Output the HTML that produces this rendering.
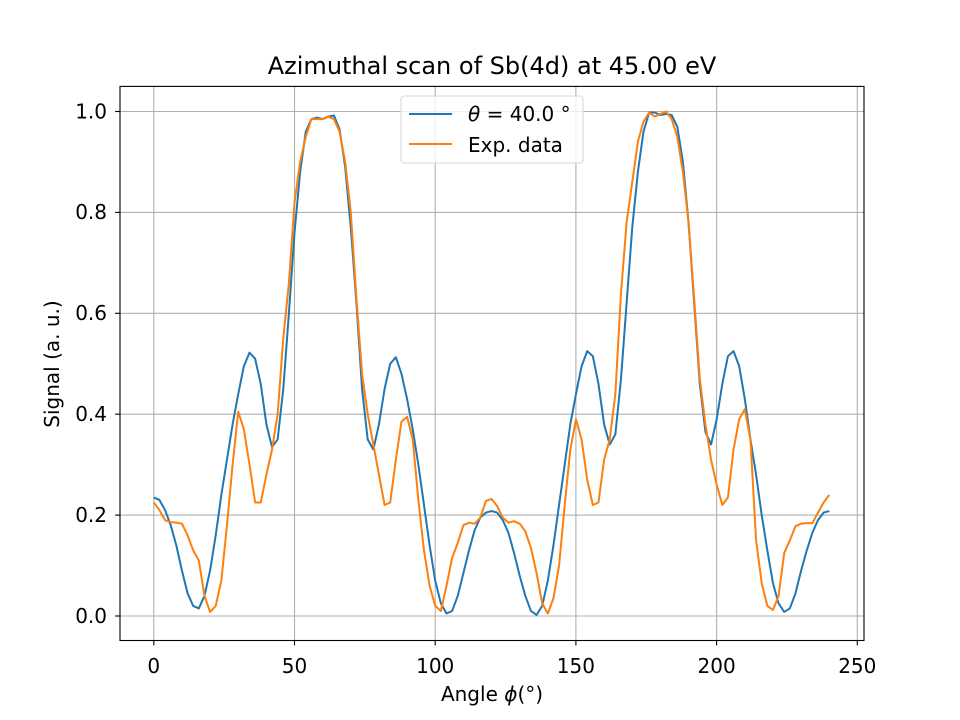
<!DOCTYPE html>
<html><head><meta charset="utf-8"><style>html,body{margin:0;padding:0;background:#fff}svg{display:block}text{font-family:"DejaVu Sans","Liberation Sans",sans-serif;fill:#000}</style></head><body>
<svg width="960" height="720" viewBox="0 0 960 720" xmlns="http://www.w3.org/2000/svg">
<rect width="960" height="720" fill="#fff"/>
<g stroke="#b0b0b0" stroke-width="1.1">
<line x1="153.8" y1="86.4" x2="153.8" y2="640.5"/>
<line x1="294.5" y1="86.4" x2="294.5" y2="640.5"/>
<line x1="435.2" y1="86.4" x2="435.2" y2="640.5"/>
<line x1="575.9" y1="86.4" x2="575.9" y2="640.5"/>
<line x1="716.6" y1="86.4" x2="716.6" y2="640.5"/>
<line x1="857.3" y1="86.4" x2="857.3" y2="640.5"/>
<line x1="120" y1="616" x2="864" y2="616"/>
<line x1="120" y1="515.1" x2="864" y2="515.1"/>
<line x1="120" y1="414.2" x2="864" y2="414.2"/>
<line x1="120" y1="313.3" x2="864" y2="313.3"/>
<line x1="120" y1="212.4" x2="864" y2="212.4"/>
<line x1="120" y1="111.5" x2="864" y2="111.5"/>
</g>
<g transform="translate(153.8,616) scale(2.8144,-504.5)" fill="none" stroke-width="2" stroke-linejoin="round">
<polyline vector-effect="non-scaling-stroke" stroke="#1f77b4" points="0,.235 2,.23 4,.21 6,.18 8,.14 10,.09 12,.045 14,.02 16,.015 18,.04 20,.09 22,.16 24,.24 26,.31 28,.38 30,.44 32,.495 34,.522 36,.51 38,.46 40,.38 42,.335 44,.35 46,.45 48,.6 50,.76 52,.88 54,.96 56,.985 58,.988 60,.985 62,.99 64,.992 66,.965 68,.89 70,.77 72,.62 74,.45 76,.35 78,.33 80,.38 82,.45 84,.5 86,.513 88,.48 90,.43 92,.37 94,.3 96,.22 98,.14 100,.07 102,.025 104,.005 106,.01 108,.04 110,.085 112,.13 114,.17 116,.195 118,.205 120,.208 122,.205 124,.19 126,.165 128,.125 130,.08 132,.04 134,.01 136,.002 138,.02 140,.07 142,.14 144,.22 146,.3 148,.38 150,.44 152,.495 154,.525 156,.515 158,.46 160,.38 162,.34 164,.36 166,.47 168,.62 170,.77 172,.88 174,.96 176,.998 178,.998 180,.993 182,.995 184,.993 186,.97 188,.9 190,.78 192,.62 194,.46 196,.365 198,.34 200,.39 202,.46 204,.515 206,.525 208,.495 210,.43 212,.35 214,.28 216,.2 218,.13 220,.065 222,.025 224,.008 226,.015 228,.045 230,.09 232,.13 234,.165 236,.19 238,.205 240,.208"/>
<polyline vector-effect="non-scaling-stroke" stroke="#ff7f0e" points="0,.225 2,.21 4,.19 6,.186 8,.185 10,.183 12,.16 14,.13 16,.11 18,.04 20,.008 22,.02 24,.07 26,.18 28,.3 30,.405 32,.37 34,.3 36,.225 38,.225 40,.28 42,.33 44,.4 46,.55 48,.66 50,.82 52,.9 54,.95 56,.985 58,.985 60,.985 62,.99 64,.985 66,.96 68,.9 70,.8 72,.63 74,.48 76,.4 78,.34 80,.28 82,.22 84,.225 86,.31 88,.385 90,.395 92,.35 94,.23 96,.13 98,.06 100,.02 102,.01 104,.06 106,.115 108,.145 110,.18 112,.185 114,.183 116,.195 118,.228 120,.232 122,.218 124,.195 126,.185 128,.188 130,.183 132,.168 134,.135 136,.085 138,.025 140,.005 142,.035 144,.1 146,.22 148,.33 150,.39 152,.35 154,.27 156,.22 158,.225 160,.31 162,.35 164,.44 166,.64 168,.78 170,.86 172,.94 174,.98 176,.998 178,.99 180,.995 182,1 184,.985 186,.95 188,.88 190,.78 192,.63 194,.47 196,.38 198,.31 200,.26 202,.22 204,.235 206,.33 208,.39 210,.41 212,.35 214,.15 216,.065 218,.02 220,.012 222,.04 224,.125 226,.15 228,.178 230,.183 232,.184 234,.184 236,.205 238,.225 240,.24"/>
</g>
<rect x="120" y="86.4" width="744" height="554.1" fill="none" stroke="#000" stroke-width="1.1"/>
<g stroke="#000" stroke-width="1.1">
<line x1="153.8" y1="640.5" x2="153.8" y2="645.4"/><line x1="294.5" y1="640.5" x2="294.5" y2="645.4"/><line x1="435.2" y1="640.5" x2="435.2" y2="645.4"/><line x1="575.9" y1="640.5" x2="575.9" y2="645.4"/><line x1="716.6" y1="640.5" x2="716.6" y2="645.4"/><line x1="857.3" y1="640.5" x2="857.3" y2="645.4"/>
<line x1="115.1" y1="616" x2="120" y2="616"/><line x1="115.1" y1="515.1" x2="120" y2="515.1"/><line x1="115.1" y1="414.2" x2="120" y2="414.2"/><line x1="115.1" y1="313.3" x2="120" y2="313.3"/><line x1="115.1" y1="212.4" x2="120" y2="212.4"/><line x1="115.1" y1="111.5" x2="120" y2="111.5"/>
</g>
<g font-size="20" text-anchor="middle">
<text x="153.8" y="673">0</text><text x="294.5" y="673">50</text><text x="435.2" y="673">100</text><text x="575.9" y="673">150</text><text x="716.6" y="673">200</text><text x="857.3" y="673">250</text>
</g>
<g font-size="20" text-anchor="end">
<text x="107" y="623">0.0</text><text x="107" y="522">0.2</text><text x="107" y="421">0.4</text><text x="107" y="320">0.6</text><text x="107" y="219">0.8</text><text x="107" y="118.5">1.0</text>
</g>
<text x="492" y="701" font-size="20" text-anchor="middle">Angle <tspan font-style="italic">ϕ</tspan>(°)</text>
<text transform="translate(59,364) rotate(-90)" font-size="20" text-anchor="middle">Signal (a. u.)</text>
<text x="492" y="74" font-size="24" text-anchor="middle">Azimuthal scan of Sb(4d) at 45.00 eV</text>
<rect x="401" y="96" width="182" height="67" rx="3" fill="#fff" fill-opacity="0.8" stroke="#d9d9d9" stroke-width="1.1"/>
<line x1="409" y1="114" x2="452" y2="114" stroke="#1f77b4" stroke-width="2"/>
<line x1="409" y1="144" x2="452" y2="144" stroke="#ff7f0e" stroke-width="2"/>
<text x="468" y="121" font-size="20"><tspan font-style="italic">θ</tspan> = 40.0 °</text>
<text x="468" y="152" font-size="20">Exp. data</text>
</svg>
</body></html>
